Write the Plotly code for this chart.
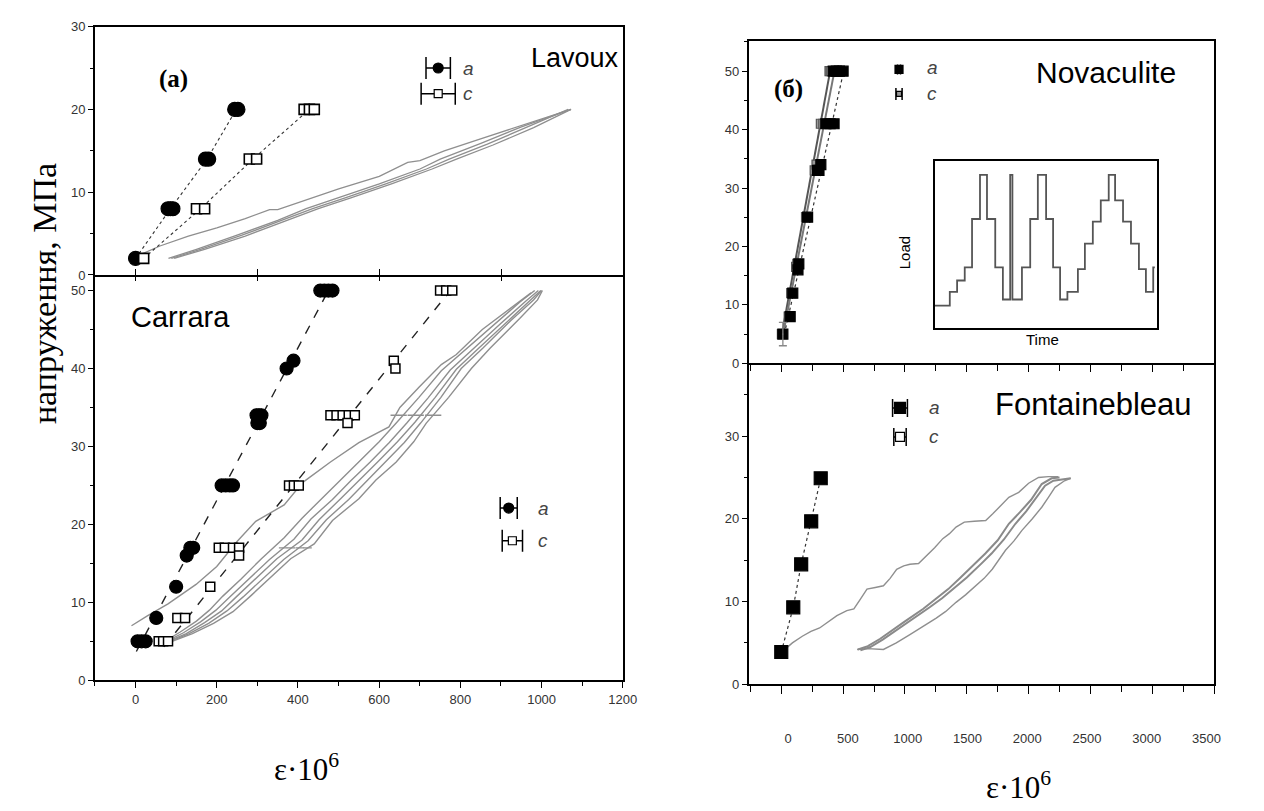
import plotly.graph_objects as go

W, H = 1264, 811

# ---------------- DATA ----------------
# Lavoux (top-left panel), x = strain*1e6, y = stress MPa
lav_a_x = [0, 80, 86, 92, 172, 180, 244, 252]
lav_a_y = [2, 8, 8, 8, 14, 14, 20, 20]
lav_c_x = [20, 150, 170, 280, 298, 415, 428, 440]
lav_c_y = [2, 8, 8, 14, 14, 20, 20, 20]
lav_a_line_x = [0, 86, 176, 248]
lav_a_line_y = [2, 8, 14, 20]
lav_c_line_x = [20, 160, 289, 428]
lav_c_line_y = [2, 8, 14, 20]
lav_up_x = [5, 60, 130, 200, 270, 330, 350, 420, 500, 600, 670, 700, 760, 840, 920, 1000, 1072]
lav_up_y = [2.3, 3.5, 4.7, 5.7, 6.8, 7.9, 7.9, 9.1, 10.4, 11.9, 13.6, 13.8, 15.0, 16.3, 17.6, 18.9, 20]
lav_lo1_x = [81, 150, 250, 350, 420, 500, 600, 700, 750, 850, 950, 1072]
lav_lo1_y = [2, 3.1, 4.8, 6.6, 8.0, 9.3, 11.0, 12.8, 14.0, 15.9, 17.9, 20]
lav_lo2_x = [95, 170, 270, 370, 450, 530, 630, 730, 790, 880, 980, 1072]
lav_lo2_y = [2, 3.1, 4.7, 6.5, 8.0, 9.3, 11.0, 12.8, 14.0, 15.7, 17.8, 20]
lav_lo3_x = [88, 160, 262, 362, 436, 516, 616, 716, 772, 866, 966, 1065]
lav_lo3_y = [2, 3.1, 4.8, 6.6, 8.0, 9.3, 11.0, 12.8, 14.0, 15.8, 17.9, 20]

# Carrara (bottom-left panel)
car_a_x = [5, 15, 25, 51, 100, 126, 135, 142, 212, 222, 232, 240, 298, 304, 310, 300, 306, 372, 389, 455, 465, 475, 485]
car_a_y = [5, 5, 5, 8, 12, 16, 17, 17, 25, 25, 25, 25, 34, 34, 34, 33, 33, 40, 41, 50, 50, 50, 50]
car_c_x = [57, 68, 80, 103, 122, 184, 205, 220, 240, 255, 255, 378, 390, 402, 636, 640,
           480, 495, 510, 525, 540, 522, 750, 765, 780]
car_c_y = [5, 5, 5, 8, 8, 12, 17, 17, 17, 17, 16, 25, 25, 25, 41, 40,
           34, 34, 34, 34, 34, 33, 50, 50, 50]
car_a_line_x = [2, 475]
car_a_line_y = [3.7, 50]
car_c_line_x = [70, 775]
car_c_line_y = [4.3, 50]
car_up_x = [-10, 30, 80, 120, 149, 200, 250, 296, 366, 412, 480, 550, 624, 651, 698, 753, 790, 854, 919, 974]
car_up_y = [7, 8.3, 9.8, 11.2, 12.3, 14.6, 17.8, 20.4, 22.5, 25.4, 28, 30.5, 32.5, 35, 37.6, 40.5, 41.8, 45, 47.6, 49.7]
car_l1_x = [72, 110, 150, 182, 215, 260, 310, 366, 410, 458, 505, 550, 600, 642, 698, 753, 808, 882, 946, 983]
car_l1_y = [5, 6.2, 7.6, 9.0, 10.8, 13.0, 15.6, 18.3, 20.8, 23.3, 25.7, 28.0, 30.6, 33.0, 36.3, 39.7, 42.2, 45.5, 48.5, 50]
car_l2_x = [76, 118, 160, 198, 232, 280, 330, 390, 432, 485, 530, 578, 625, 668, 720, 775, 828, 900, 960, 992]
car_l2_y = [5, 6.1, 7.5, 9.0, 10.7, 13.0, 15.5, 18.1, 20.7, 23.2, 25.6, 28.0, 30.5, 33.0, 36.2, 39.8, 42.4, 45.8, 48.6, 50]
car_l3_x = [80, 125, 170, 212, 250, 297, 348, 410, 452, 505, 552, 598, 645, 688, 738, 790, 843, 915, 972, 998]
car_l3_y = [5, 6.0, 7.4, 8.9, 10.8, 13.1, 15.6, 18.0, 20.6, 23.3, 25.7, 28.1, 30.6, 33.1, 36.3, 39.9, 42.5, 46.0, 48.7, 50]
car_l4_x = [85, 132, 180, 225, 265, 312, 365, 425, 470, 525, 570, 617, 662, 702, 752, 802, 855, 925, 980, 1000]
car_l4_y = [5, 6.0, 7.3, 8.9, 10.7, 13.0, 15.5, 17.9, 20.6, 23.2, 25.6, 28.0, 30.5, 33.0, 36.3, 40.0, 42.6, 46.2, 48.8, 50]
car_l5_x = [90, 140, 192, 240, 283, 328, 382, 440, 485, 550, 592, 642, 685, 716, 771, 827, 873, 946, 990, 1002]
car_l5_y = [5, 6.0, 7.3, 8.8, 10.8, 13.0, 15.6, 17.5, 20.5, 23.3, 25.7, 28.0, 30.6, 33.0, 36.3, 40.0, 42.6, 46.4, 48.8, 50]
car_hbar_x = [648, 690, 733, 373, 414]
car_hbar_y = [34, 34, 34, 17, 17]
car_hbar_err = [20, 20, 20, 20, 20]

# Novaculite (top-right panel)
nov_a_x = [13, 72, 93, 135, 142, 213, 293, 305, 320, 360, 395, 427, 420, 445, 470, 500]
nov_a_y = [5, 8, 12, 16, 17, 25, 33, 33, 34, 41, 41, 41, 50, 50, 50, 50]
nov_c_x = [5, 60, 80, 120, 130, 200, 270, 285, 320, 340, 390, 400]
nov_c_y = [5, 8, 12, 16.5, 17, 25, 33, 34, 41, 41, 50, 50]
nov_l1_x = [5, 395]
nov_l1_y = [5, 50]
nov_l2_x = [15, 430]
nov_l2_y = [5, 50]
nov_l3_x = [25, 505]
nov_l3_y = [5, 50]

# Inset load history (arbitrary units)
ins_t = [0, 48, 71, 95, 118, 143, 165, 191, 215, 238, 245, 275, 301, 325, 351,
         373, 395, 418, 451, 473, 498, 523, 548, 568, 593, 618, 643, 665, 688, 693]
ins_load = [68, 110, 145, 185, 333, 468, 333, 185, 87, 468, 87, 185, 333, 468, 333,
            185, 87, 110, 180, 258, 325, 390, 468, 390, 325, 258, 180, 110, 185, 185]

# Fontainebleau (bottom-right panel)
fon_a_x = [0, 97, 161, 242, 319]
fon_a_y = [3.9, 9.3, 14.5, 19.7, 24.9]
fon_up_x = [13, 90, 170, 240, 310, 373, 450, 530, 587, 640, 693, 760, 826, 880, 933, 990, 1040,
            1110, 1173, 1240, 1306, 1360, 1413, 1480, 1560, 1653, 1710, 1760, 1840, 1920, 2000,
            2080, 2160, 2240]
fon_up_y = [4.0, 5.0, 5.8, 6.4, 6.8, 7.5, 8.3, 8.9, 9.1, 10.3, 11.5, 11.7, 11.9, 12.8, 13.9, 14.3,
            14.5, 14.6, 15.5, 16.5, 17.6, 18.2, 19.0, 19.6, 19.7, 19.8, 20.6, 21.4, 22.6, 23.2,
            24.3, 25.0, 25.1, 25.1]
fon_low_x = [613, 700, 826, 930, 1040, 1150, 1253, 1330, 1413, 1490, 1573, 1640, 1706, 1760, 1813,
             1880, 1946, 2030, 2106, 2160, 2213, 2290, 2340]
fon_low_y = [4.2, 4.3, 4.2, 5.0, 6.0, 7.0, 8.0, 8.8, 9.9, 10.8, 11.9, 12.8, 13.9, 15.0, 16.2,
             17.3, 18.6, 20.0, 21.4, 22.6, 23.8, 24.6, 24.9]
fon_in1_x = [620, 700, 800, 900, 1000, 1146, 1250, 1350, 1450, 1573, 1650, 1750, 1840, 1930,
             2020, 2106, 2186, 2250]
fon_in1_y = [4.2, 4.6, 5.5, 6.5, 7.6, 9.1, 10.3, 11.5, 12.9, 14.7, 15.8, 17.4, 19.4, 20.8,
             22.3, 24.2, 24.9, 25.0]
fon_in2_x = [640, 720, 820, 930, 1050, 1200, 1300, 1400, 1500, 1626, 1700, 1800, 1893, 1980,
             2060, 2133, 2200, 2340]
fon_in2_y = [4.1, 4.5, 5.4, 6.5, 7.8, 9.3, 10.4, 11.6, 12.9, 14.7, 15.8, 17.5, 19.4, 20.9,
             22.5, 24.0, 24.6, 24.9]

# Ticks
left_x_ticks = [0, 200, 400, 600, 800, 1000, 1200]
left_x_ticktext = ["0", "200", "400", "600", "800", "1000", "1200"]
lav_x_ticks = [0, 300, 600, 900]
lav_y_ticks = [0, 10, 20, 30]
car_y_ticks = [0, 10, 20, 30, 40, 50]
right_x_ticks = [0, 500, 1000, 1500, 2000, 2500, 3000, 3500]
right_x_ticktext = ["0", "500", "1000", "1500", "2000", "2500", "3000", "3500"]
nov_y_ticks = [0, 10, 20, 30, 40, 50]
fon_y_ticks = [0, 10, 20, 30]

# ---------------- STYLE ----------------
SANS = "Liberation Sans, Arial, sans-serif"
SERIF = "Liberation Serif, Times New Roman, serif"
GRAY = "#8f8f8f"
TICKFONT = dict(family=SANS, size=13, color="#333")


def dx(p):
    return p / W


def dy(p):
    return 1 - p / H


fig = go.Figure()


def line(x, y, ax, color=GRAY, width=1.5, dash="solid", shape="linear"):
    fig.add_trace(go.Scatter(x=x, y=y, mode="lines", xaxis=ax[0], yaxis=ax[1],
                             line=dict(color=color, width=width, dash=dash, shape=shape),
                             showlegend=False, hoverinfo="skip"))


def marks(x, y, ax, symbol, size, color="black", lcolor="black", lw=1.2):
    fig.add_trace(go.Scatter(x=x, y=y, mode="markers", xaxis=ax[0], yaxis=ax[1],
                             marker=dict(symbol=symbol, size=size, color=color,
                                         line=dict(color=lcolor, width=lw)),
                             showlegend=False, hoverinfo="skip"))


def legmark(x, y, ex, ax, symbol, size, color="black", capw=10):
    fig.add_trace(go.Scatter(x=[x], y=[y], mode="markers", xaxis=ax[0], yaxis=ax[1],
                             marker=dict(symbol=symbol, size=size, color=color,
                                         line=dict(color="black", width=1.2)),
                             error_x=dict(type="data", array=[ex], color="black", thickness=1.5, width=capw),
                             showlegend=False, hoverinfo="skip"))


A1 = ("x", "y")
A2 = ("x2", "y2")
A3 = ("x3", "y3")
A4 = ("x4", "y4")
A5 = ("x5", "y5")

# Lavoux
for xs, ys in [(lav_up_x, lav_up_y), (lav_lo1_x, lav_lo1_y), (lav_lo2_x, lav_lo2_y), (lav_lo3_x, lav_lo3_y)]:
    line(xs, ys, A1, width=1.3)
line(lav_a_line_x, lav_a_line_y, A1, color="#333", width=1.1, dash="dot")
line(lav_c_line_x, lav_c_line_y, A1, color="#333", width=1.1, dash="dot")
marks(lav_a_x, lav_a_y, A1, "circle", 14)
marks(lav_c_x, lav_c_y, A1, "square", 10, color="white", lw=1.6)
legmark(745, 25, 30, A1, "circle", 10, capw=11)
legmark(745, 21.9, 42, A1, "square", 8, color="white", capw=11)

# Carrara
for xs, ys in [(car_up_x, car_up_y), (car_l1_x, car_l1_y), (car_l2_x, car_l2_y),
               (car_l3_x, car_l3_y), (car_l4_x, car_l4_y), (car_l5_x, car_l5_y)]:
    line(xs, ys, A2, width=1.4)
fig.add_trace(go.Scatter(x=car_hbar_x, y=car_hbar_y, mode="markers", xaxis="x2", yaxis="y2",
                         marker=dict(size=1, color=GRAY),
                         error_x=dict(type="data", array=car_hbar_err, color=GRAY, thickness=1.3, width=0),
                         showlegend=False, hoverinfo="skip"))
line(car_a_line_x, car_a_line_y, A2, color="#222", width=1.4, dash="dash")
line(car_c_line_x, car_c_line_y, A2, color="#222", width=1.4, dash="dash")
marks(car_a_x, car_a_y, A2, "circle", 13)
marks(car_c_x, car_c_y, A2, "square", 9, color="white", lw=1.5)
legmark(919, 22.1, 21, A2, "circle", 10, capw=11)
legmark(928, 17.9, 25, A2, "square", 8, color="white", capw=11)

# Novaculite
line(nov_l1_x, nov_l1_y, A3, color="#555", width=2)
line(nov_l2_x, nov_l2_y, A3, color="#777", width=2)
line(nov_l3_x, nov_l3_y, A3, color="#333", width=1.2, dash="dot")
marks(nov_c_x, nov_c_y, A3, "square", 9, color="#999", lcolor="#555")
marks(nov_a_x, nov_a_y, A3, "square", 10)
fig.add_trace(go.Scatter(x=[nov_a_x[0]], y=[nov_a_y[0]], mode="markers", xaxis="x3", yaxis="y3",
                         marker=dict(size=1, color="#888"),
                         error_y=dict(type="data", array=[2], color="#888", thickness=1.3, width=4),
                         showlegend=False, hoverinfo="skip"))
legmark(952, 50.3, 12, A3, "square", 8, capw=5)
legmark(952, 46.1, 25, A3, "square", 5, color="#999", capw=6)

# Inset
line(ins_t, ins_load, A5, color="#555", width=1.8, shape="hv")

# Fontainebleau
for xs, ys in [(fon_up_x, fon_up_y), (fon_low_x, fon_low_y)]:
    line(xs, ys, A4, width=1.4)
for xs, ys in [(fon_in1_x, fon_in1_y), (fon_in2_x, fon_in2_y)]:
    line(xs, ys, A4, color="#8a8a8a", width=2)
line(fon_a_x, fon_a_y, A4, color="#333", width=1.2, dash="dot")
marks(fon_a_x, fon_a_y, A4, "square", 13)
legmark(960, 33.4, 60, A4, "square", 11, capw=9)
legmark(960, 29.9, 50, A4, "square", 9, color="white", capw=9)

# placeholder traces that activate the overlay tick axes
fig.add_trace(go.Scatter(x=[0], y=[0], xaxis="x6", yaxis="y2", mode="markers",
                         marker=dict(size=0, opacity=0), showlegend=False, hoverinfo="skip"))
fig.add_trace(go.Scatter(x=[0], y=[0], xaxis="x7", yaxis="y4", mode="markers",
                         marker=dict(size=0, opacity=0), showlegend=False, hoverinfo="skip"))

AXL = dict(showline=True, linecolor="black", linewidth=1.6, showgrid=False, zeroline=False,
           tickcolor="black", tickwidth=1.4, tickfont=TICKFONT)
MINY = dict(dtick=5, tick0=0, ticks="outside", ticklen=3, tickcolor="black", tickwidth=1.2)

LX = [dx(96), dx(630)]
RX = [dx(757), dx(1228)]

fig.update_layout(
    width=W, height=H, margin=dict(l=0, r=0, t=0, b=0),
    paper_bgcolor="white", plot_bgcolor="white", showlegend=False,
    # Lavoux
    xaxis=dict(AXL, domain=LX, anchor="y", range=[-100, 1200], mirror=True,
               tickmode="array", tickvals=lav_x_ticks, ticks="inside", ticklen=6,
               showticklabels=False),
    yaxis=dict(AXL, domain=[dy(273), dy(20)], anchor="x", range=[0, 30], mirror=True,
               tickmode="array", tickvals=lav_y_ticks, ticks="outside", ticklen=5, minor=MINY),
    # Carrara
    xaxis2=dict(AXL, domain=LX, anchor="y2", range=[-100, 1200.5], mirror=False,
                tickmode="array", tickvals=left_x_ticks, ticktext=left_x_ticktext,
                ticks="outside", ticklen=6,
                minor=dict(dtick=100, tick0=0, ticks="outside", ticklen=4, tickcolor="black", tickwidth=1.2)),
    yaxis2=dict(AXL, domain=[dy(686), dy(273)], anchor="x2", range=[0, 52], mirror=True,
                tickmode="array", tickvals=car_y_ticks, ticks="outside", ticklen=5, minor=MINY),
    xaxis6=dict(domain=LX, anchor="y2", overlaying="x2", side="top", range=[-100, 1200],
                showline=False, showgrid=False, zeroline=False, tickmode="array",
                tickvals=lav_x_ticks, ticks="inside", ticklen=6, tickcolor="black",
                tickwidth=1.4, showticklabels=False),
    # Novaculite
    xaxis3=dict(AXL, domain=RX, anchor="y3", range=[-264, 3502], mirror=True,
                tickmode="array", tickvals=right_x_ticks, ticks="outside", ticklen=7,
                showticklabels=False,
                minor=dict(dtick=250, tick0=0, ticks="outside", ticklen=6, tickcolor="black", tickwidth=1.2)),
    yaxis3=dict(AXL, domain=[dy(363), dy(35)], anchor="x3", range=[0, 55.1], mirror=True,
                tickmode="array", tickvals=nov_y_ticks, ticks="outside", ticklen=5, minor=MINY),
    # Fontainebleau
    xaxis4=dict(AXL, domain=RX, anchor="y4", range=[-264, 3502], mirror=False,
                tickmode="array", tickvals=right_x_ticks, ticks="outside", ticklen=8,
                showticklabels=False,
                minor=dict(dtick=250, tick0=0, ticks="outside", ticklen=6, tickcolor="black", tickwidth=1.2)),
    yaxis4=dict(AXL, domain=[dy(690), dy(363)], anchor="x4", range=[0, 38.8], mirror=True,
                tickmode="array", tickvals=fon_y_ticks, ticks="outside", ticklen=5, minor=MINY),
    xaxis7=dict(domain=RX, anchor="y4", overlaying="x4", side="bottom", range=[-331, 3566],
                showline=False, showgrid=False, zeroline=False, ticks="",
                tickmode="array", tickvals=right_x_ticks, ticktext=right_x_ticktext,
                tickfont=TICKFONT, ticklabelstandoff=45),
    # Inset
    xaxis5=dict(domain=[dx(945), dx(1170)], anchor="y5", range=[0, 700], showline=True,
                linecolor="black", linewidth=1.6, mirror=True, showgrid=False, zeroline=False,
                ticks="", showticklabels=False),
    yaxis5=dict(domain=[dy(327), dy(157)], anchor="x5", range=[0, 510], showline=True,
                linecolor="black", linewidth=1.6, mirror=True, showgrid=False, zeroline=False,
                ticks="", showticklabels=False),
)

ann = []


def text(x, y, s, size, family=SANS, color="black", xanchor="center", angle=0, xref="paper", yref="paper"):
    ann.append(dict(x=x, y=y, xref=xref, yref=yref, text=s, showarrow=False,
                    font=dict(family=family, size=size, color=color),
                    xanchor=xanchor, yanchor="middle", textangle=angle))


text(dx(175), dy(73), "<b>(а)</b>", 25, SERIF)
text(dx(628), dy(52), "Lavoux", 27, xanchor="right")
text(dx(183), dy(316), "Carrara", 29)
text(dx(797), dy(84), "<b>(б)</b>", 25, SERIF)
text(dx(1118), dy(67), "Novaculite", 30)
text(dx(1106), dy(405), "Fontainebleau", 31)
text(dx(914), dy(250), "Load", 15, angle=-90)
text(dx(1054), dy(339), "Time", 15)
text(dx(45), dy(292), "напруження, МПа", 34, SERIF, angle=-90)
text(dx(310), dy(775), "ε·10<sup>6</sup>", 31, SERIF)
text(dx(1030), dy(793), "ε·10<sup>6</sup>", 31, SERIF)
# legend labels
for (x, y, s, xr, yr) in [(800, 25, "a", "x", "y"), (800, 21.9, "c", "x", "y"),
                          (985, 22.1, "a", "x2", "y2"), (985, 17.9, "c", "x2", "y2"),
                          (1160, 50.6, "a", "x3", "y3"), (1160, 46.2, "c", "x3", "y3"),
                          (1180, 33.4, "a", "x4", "y4"), (1180, 29.9, "c", "x4", "y4")]:
    text(x, y, "<i>" + s + "</i>", 19, SANS, color="#444", xanchor="left", xref=xr, yref=yr)

fig.update_layout(annotations=ann)
fig.write_html("out.html")
